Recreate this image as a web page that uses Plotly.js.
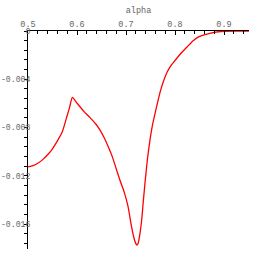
<!DOCTYPE html>
<html><head><meta charset="utf-8">
<script src="https://cdn.plot.ly/plotly-3.0.1.min.js"></script>
<style>html,body{margin:0;padding:0;background:#fff;}#plot{width:277px;height:277px;}</style>
</head><body><div id="plot"></div>
<script>
const alpha = [0.500,0.510,0.520,0.530,0.540,0.550,0.560,0.570,0.580,0.585,0.5905,0.600,0.614,0.626,0.638,0.647,0.655,0.664,0.672,0.680,0.688,0.696,0.704,0.710,0.716,0.720,0.7225,0.725,0.7285,0.732,0.7355,0.740,0.744,0.749,0.754,0.764,0.770,0.777,0.784,0.791,0.798,0.811,0.825,0.837,0.849,0.861,0.873,0.893,0.920,0.951];
const values = [-0.01125,-0.01115,-0.01095,-0.01065,-0.01025,-0.00975,-0.00910,-0.00835,-0.00700,-0.0063,-0.0055,-0.00597,-0.00665,-0.00715,-0.00768,-0.0082,-0.00880,-0.0096,-0.01040,-0.01140,-0.01240,-0.01330,-0.01450,-0.01590,-0.01710,-0.01760,-0.01772,-0.01755,-0.01675,-0.01565,-0.0140,-0.01206,-0.0105,-0.0090,-0.0078,-0.0060,-0.0050,-0.0041,-0.0034,-0.0029,-0.00254,-0.0019,-0.0013,-0.0008,-0.00047,-0.0003,-0.00017,-0.00004,0,0];
const xTickVals = [0.5,0.6,0.7,0.8,0.9];
const xTickText = ["0.5","0.6","0.7","0.8","0.9"];
const yTickVals = [0,-0.004,-0.008,-0.012,-0.016];
const yTickText = ["0","-0.004","-0.008","-0.012","-0.016"];

const font = {family:"Liberation Mono, Courier New, monospace", size:8.5, color:"#666"};
const yfont = {family:"Liberation Mono, Courier New, monospace", size:8.2, color:"#666"};
Plotly.newPlot("plot", [{
  x: alpha, y: values, type:"scatter", mode:"lines",
  line:{color:"#ff0000", width:1.3, shape:"spline", smoothing:0.5}
}], {
  width:277, height:277,
  margin:{l:28, r:28, t:31, b:28, pad:0},
  paper_bgcolor:"#fff", plot_bgcolor:"#fff",
  showlegend:false,
  font: font,
  xaxis:{
    side:"top", range:[0.5,0.951], showgrid:false, zeroline:false,
    showline:true, linecolor:"#000", linewidth:1,
    tickmode:"array", tickvals:xTickVals, ticktext:xTickText,
    ticks:"inside", ticklen:4, tickcolor:"#000", tickwidth:1,
    minor:{dtick:0.02, ticks:"inside", ticklen:3, tickcolor:"#000", tickwidth:1, showgrid:false},
    tickfont:font,
    title:{text:"alpha", font:font, standoff:4}
  },
  yaxis:{
    range:[-0.01805,0], showgrid:false, zeroline:false,
    showline:true, linecolor:"#000", linewidth:1,
    tickmode:"array", tickvals:yTickVals, ticktext:yTickText,
    ticks:"outside", ticklen:3, tickcolor:"#000", tickwidth:1,
    minor:{dtick:0.0008, ticks:"outside", ticklen:3, tickcolor:"#000", tickwidth:1, showgrid:false},
    tickfont:yfont, ticklabelstandoff:-8
  }
}, {staticPlot:true, displayModeBar:false});
</script></body></html>
